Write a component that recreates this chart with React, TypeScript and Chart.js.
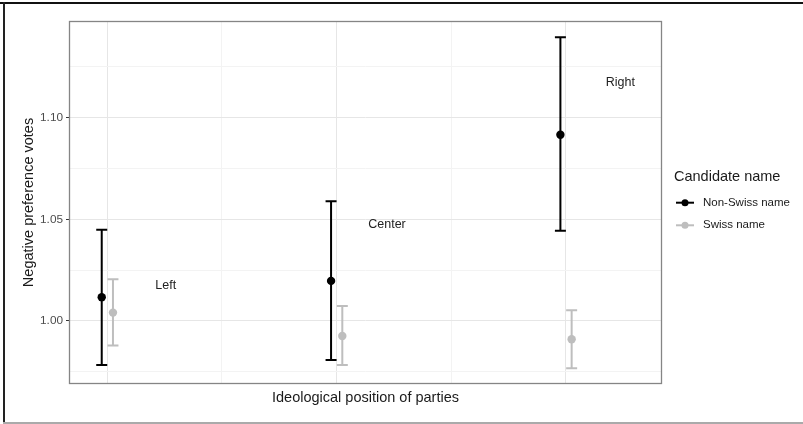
import React, { useEffect, useRef } from 'react';
import { Chart, registerables } from 'chart.js';
Chart.register(...registerables);

// ---- data ----
const categories = ['Left', 'Center', 'Right'];
const categoryX = [1, 2, 3];
const nonSwissMean = [1.0117, 1.0197, 1.0916];
const nonSwissLow = [0.9784, 0.9808, 1.0444];
const nonSwissHigh = [1.0449, 1.0589, 1.1395];
const swissMean = [1.0041, 0.9926, 0.991];
const swissLow = [0.9879, 0.9784, 0.9767];
const swissHigh = [1.0205, 1.0074, 1.0053];
const labelX = [1.256, 2.221, 3.238];
const labelY = [1.0173, 1.0472, 1.1174];
const yTicks = [0.975, 1.0, 1.025, 1.05, 1.075, 1.1, 1.125];
const yMajor = [1.0, 1.05, 1.1];
const xGrid = [1, 1.5, 2, 2.5, 3];
const xMajor = [1, 2, 3];
const seriesNames = ['Non-Swiss name', 'Swiss name'];
const legendTitle = 'Candidate name';
const xTitle = 'Ideological position of parties';
const yTitle = 'Negative preference votes';

const FONT = "'Liberation Sans', Arial, sans-serif";
const series = [
  { name: seriesNames[0], mean: nonSwissMean, low: nonSwissLow, high: nonSwissHigh, color: '#000000', dodge: -0.023 },
  { name: seriesNames[1], mean: swissMean, low: swissLow, high: swissHigh, color: '#bebebe', dodge: 0.026 },
];

const isIn = (v: number, arr: number[]) => arr.some((a) => Math.abs(a - v) < 1e-9);

const errorBarPlugin = {
  id: 'errorBars',
  beforeDatasetsDraw(chart: any) {
    const { ctx, scales } = chart;
    const x = scales.x, y = scales.y;
    ctx.save();
    series.forEach((s) => {
      ctx.strokeStyle = s.color;
      ctx.lineWidth = 2;
      categoryX.forEach((cx, i) => {
        const px = x.getPixelForValue(cx + s.dodge);
        const lo = y.getPixelForValue(s.low[i]);
        const hi = y.getPixelForValue(s.high[i]);
        ctx.beginPath();
        ctx.moveTo(px, lo);
        ctx.lineTo(px, hi);
        ctx.moveTo(px - 5.5, lo);
        ctx.lineTo(px + 5.5, lo);
        ctx.moveTo(px - 5.5, hi);
        ctx.lineTo(px + 5.5, hi);
        ctx.stroke();
      });
    });
    ctx.restore();
  },
  afterDatasetsDraw(chart: any) {
    const { ctx, scales, chartArea } = chart;
    const x = scales.x, y = scales.y;
    ctx.save();
    // category labels
    ctx.fillStyle = '#222';
    ctx.font = `12.5px ${FONT}`;
    ctx.textAlign = 'center';
    ctx.textBaseline = 'middle';
    categories.forEach((c, i) => {
      ctx.fillText(c, x.getPixelForValue(labelX[i]), y.getPixelForValue(labelY[i]));
    });
    // panel border
    ctx.strokeStyle = '#858585';
    ctx.lineWidth = 1.3;
    ctx.strokeRect(chartArea.left + 0.5, chartArea.top + 0.5, chartArea.right - chartArea.left - 1, chartArea.bottom - chartArea.top - 1);
    ctx.restore();
  },
  afterDraw(chart: any) {
    const { ctx } = chart;
    ctx.save();
    // legend
    ctx.fillStyle = '#1a1a1a';
    ctx.font = `14.5px ${FONT}`;
    ctx.textAlign = 'left';
    ctx.textBaseline = 'middle';
    ctx.fillText(legendTitle, 674, 177);
    ctx.font = `11.5px ${FONT}`;
    series.forEach((s, i) => {
      const cy = 202.7 + i * 22.6;
      ctx.strokeStyle = s.color;
      ctx.lineWidth = 2;
      ctx.beginPath();
      ctx.moveTo(676, cy);
      ctx.lineTo(694, cy);
      ctx.stroke();
      ctx.fillStyle = s.color;
      ctx.beginPath();
      ctx.arc(685, cy, 3.5, 0, Math.PI * 2);
      ctx.fill();
      ctx.fillStyle = '#1a1a1a';
      ctx.fillText(s.name, 703, cy);
    });
    // outer frame
    ctx.fillStyle = '#111';
    ctx.fillRect(0, 2, 803, 2);
    ctx.fillStyle = '#222';
    ctx.fillRect(3, 2, 2, 421);
    ctx.fillStyle = '#aaa';
    ctx.fillRect(3, 422, 800, 2);
    ctx.restore();
  },
};

export default function App() {
  const ref = useRef<HTMLCanvasElement>(null);
  useEffect(() => {
    if (!ref.current) return;
    const chart = new Chart(ref.current, {
      type: 'scatter',
      data: {
        datasets: series.map((s) => ({
          label: s.name,
          data: categoryX.map((cx, i) => ({ x: cx + s.dodge, y: s.mean[i] })),
          backgroundColor: s.color,
          borderColor: s.color,
          borderWidth: 0,
          pointRadius: 4.2,
          pointHoverRadius: 4.2,
          showLine: false,
        })),
      },
      options: {
        animation: false,
        responsive: false,
        devicePixelRatio: 1,
        events: [],
        layout: { padding: { left: 0, top: 21, right: 141, bottom: 0 } },
        plugins: { legend: { display: false }, tooltip: { enabled: false }, title: { display: false } },
        scales: {
          x: {
            type: 'linear',
            min: 0.8343,
            max: 3.42,
            afterBuildTicks: (scale: any) => {
              scale.ticks = xGrid.map((v) => ({ value: v }));
            },
            afterFit: (scale: any) => {
              scale.height = 40;
            },
            ticks: { display: false },
            border: { display: false },
            grid: {
              drawTicks: false,
              color: (c: any) => (isIn(c.tick?.value, xMajor) ? '#e6e6e6' : '#f3f3f3'),
              lineWidth: 1,
            },
            title: {
              display: true,
              text: xTitle,
              color: '#1a1a1a',
              font: { family: FONT, size: 14.5 },
              padding: { top: 0, bottom: 17.3 },
            },
          },
          y: {
            type: 'linear',
            min: 0.969,
            max: 1.1475,
            afterBuildTicks: (scale: any) => {
              scale.ticks = yTicks.map((v) => ({ value: v }));
            },
            afterFit: (scale: any) => {
              scale.width = 69;
            },
            ticks: {
              padding: 3,
              color: '#4d4d4d',
              font: { family: FONT, size: 11.8 },
              callback: (v: any) => (isIn(Number(v), yMajor) ? Number(v).toFixed(2) : ''),
            },
            border: { display: false },
            grid: {
              drawTicks: true,
              tickLength: 3,
              tickColor: (c: any) => (isIn(c.tick?.value, yMajor) ? '#333333' : 'rgba(0,0,0,0)'),
              color: (c: any) => (isIn(c.tick?.value, yMajor) ? '#e6e6e6' : '#f3f3f3'),
              lineWidth: 1,
            },
            title: {
              display: true,
              text: yTitle,
              color: '#1a1a1a',
              font: { family: FONT, size: 14.5 },
              padding: { top: 20, bottom: 0 },
            },
          },
        },
      },
      plugins: [errorBarPlugin],
    } as any);
    return () => chart.destroy();
  }, []);
  return (
    <div style={{ position: 'fixed', left: 0, top: 0, width: 803, height: 424, background: '#fff' }}>
      <canvas ref={ref} width={803} height={424} style={{ display: 'block', width: 803, height: 424 }} />
    </div>
  );
}
